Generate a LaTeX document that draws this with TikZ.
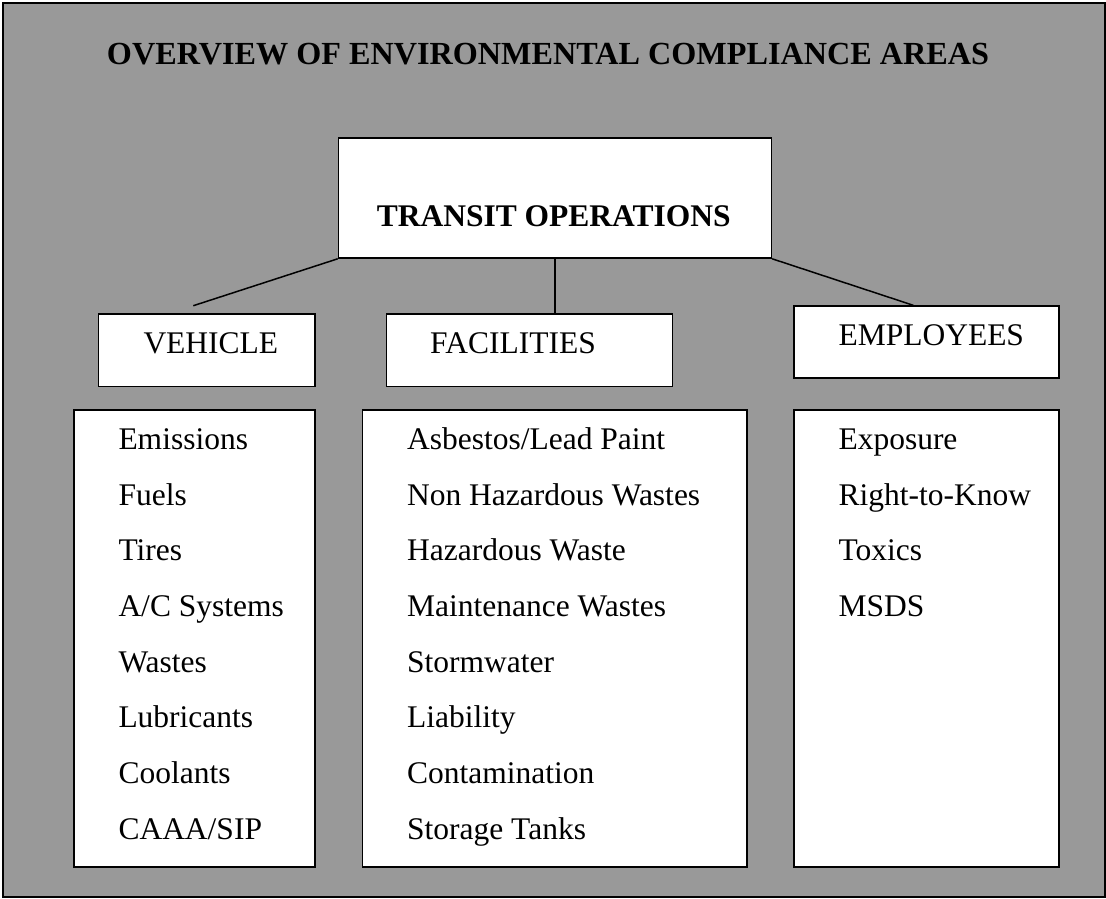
\documentclass[tikz,border=0pt]{standalone}
\usepackage{fontspec}
\setmainfont{Liberation Serif}
\definecolor{bg}{RGB}{153,153,153}
\begin{document}
\begin{tikzpicture}[x=1pt,y=-1pt,
  box/.style={draw=black,fill=white,line width=1.5pt,rectangle,inner sep=0pt,anchor=north west},
  lbl/.style={anchor=base west,inner sep=0pt,font=\fontsize{31.5}{36}\selectfont},
  blbl/.style={anchor=base,inner sep=0pt,font=\fontsize{31.5}{36}\selectfont\bfseries},
  conn/.style={line width=1.5pt}]
\useasboundingbox (0,0) rectangle (1106,898);
\node[draw=black,line width=2pt,fill=bg,minimum width=1102pt,minimum height=894pt,anchor=north west,inner sep=0pt] (frame) at (2,2) {};
\node[blbl,font=\fontsize{32.2}{36}\selectfont\bfseries] (title) at (548,64) {OVERVIEW OF ENVIRONMENTAL COMPLIANCE AREAS};
% top box
\node[box,minimum width=433pt,minimum height=120pt] (transit) at (337.7,137.3) {};
\node[blbl] (transitlbl) at (553.7,226) {TRANSIT OPERATIONS};
% category boxes
\node[box,minimum width=216.6pt,minimum height=72.4pt] (vehicle) at (97.7,313.3) {};
\node[lbl] (vehiclelbl) at (143.3,353.3) {VEHICLE};
\node[box,minimum width=286pt,minimum height=72.4pt] (facilities) at (385.7,313.3) {};
\node[lbl] (facilitieslbl) at (430,353.3) {FACILITIES};
\node[box,minimum width=265pt,minimum height=72pt] (employees) at (793.3,305.3) {};
\node[lbl] (employeeslbl) at (838.3,345.7) {EMPLOYEES};
% connectors
\coordinate (vend) at (193.3,305.7);
\coordinate (eend) at (913.3,305.3);
\draw[conn] (transit.south west) -- (vend);
\draw[conn] (transit.south) -- (transit.south |- facilities.north);
\draw[conn] (transit.south east) -- (eend);
% list boxes
\node[box,minimum width=241pt,minimum height=456.7pt] (vlist) at (73.3,409.3) {};
\node[box,minimum width=384.5pt,minimum height=456.7pt] (flist) at (361.7,409.3) {};
\node[box,minimum width=265pt,minimum height=456.7pt] (elist) at (793.3,409.3) {};
\foreach \t [count=\i] in {Emissions,Fuels,Tires,A/C Systems,Wastes,Lubricants,Coolants,CAAA/SIP}
  \node[lbl] (v\i) at (118.3,{449.3+55.7*(\i-1)}) {\t};
\foreach \t [count=\i] in {Asbestos/Lead Paint,Non Hazardous Wastes,Hazardous Waste,Maintenance Wastes,Stormwater,Liability,Contamination,Storage Tanks}
  \node[lbl] (f\i) at (406.9,{449.3+55.7*(\i-1)}) {\t};
\foreach \t [count=\i] in {Exposure,Right-to-Know,Toxics,MSDS}
  \node[lbl] (e\i) at (838.3,{449.3+55.7*(\i-1)}) {\t};
\end{tikzpicture}
\end{document}
